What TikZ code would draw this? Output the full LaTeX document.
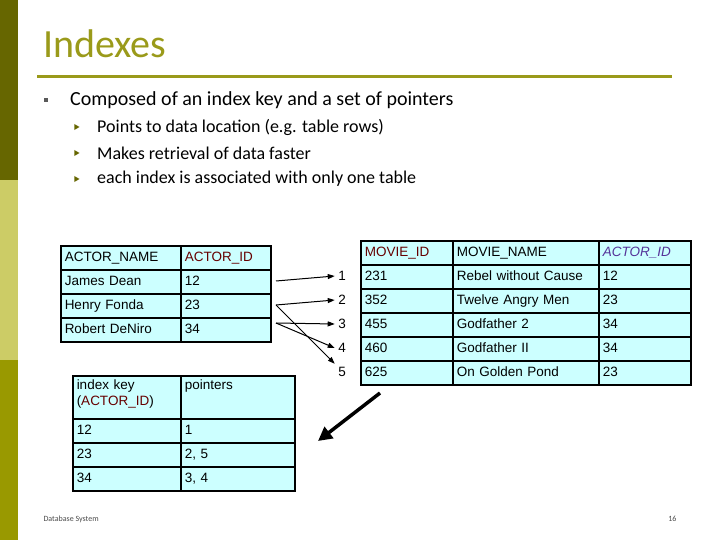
\documentclass[tikz,border=0pt]{standalone}
\usepackage{fontspec}
\setmainfont{Carlito}
\newfontfamily\tab{Liberation Sans}
\usetikzlibrary{arrows.meta,shapes.geometric}
\definecolor{olivedark}{HTML}{666600}
\definecolor{olivemid}{HTML}{999900}
\definecolor{khaki}{HTML}{CCCC66}
\definecolor{titlec}{HTML}{9A9A1A}
\definecolor{cellc}{HTML}{CCFFFF}
\definecolor{hdred}{HTML}{660000}
\definecolor{hdpurple}{HTML}{553399}
\tikzset{
 cell/.style={draw=black,line width=1.5pt,fill=cellc,anchor=north west,inner xsep=4pt,inner ysep=0pt,
   minimum width=#1,text width=#1-8pt,align=left,minimum height=24pt,text height=10pt,text depth=3pt,
   font=\tab\fontsize{13.5}{16}\selectfont},
 cell/.default=100pt,
 rownum/.style={font=\tab\fontsize{13.5}{15}\selectfont},
 ptr/.style={-{Triangle[length=7pt,width=5pt]},line width=1pt},
 big/.style={-{Triangle[length=14pt,width=14pt]},line width=3.5pt},
 sub/.style={font=\fontsize{18}{20}\selectfont,anchor=west},
}
\begin{document}
\begin{tikzpicture}[x=1pt,y=-1pt]
\useasboundingbox (0,0) rectangle (720,540);
\fill[white] (0,0) rectangle (720,540);
\fill[olivedark] (0,0) rectangle (18,180);
\fill[khaki] (0,180) rectangle (18,360);
\fill[olivemid] (0,360) rectangle (18,540);
\node[anchor=base west,text=titlec,font=\fontsize{40}{44}\selectfont,inner sep=0pt] (title) at (43,58) {Indexes};
\draw[titlec,line width=3pt] (37,77) -- (672,77);
\node[fill=gray!70!black,minimum size=4pt,inner sep=0pt] (b0) at (46,100) {};
\node[sub,font=\fontsize{20}{22}\selectfont,inner sep=0pt] (t0) at (70,100) {Composed of an index key and a set of pointers};
\foreach \y/\t [count=\i] in {127/Points to data location (e.g. table rows),153/Makes retrieval of data faster,179/each index is associated with only one table}{
 \node[fill=olivedark,regular polygon,regular polygon sides=3,shape border rotate=-90,minimum size=7pt,inner sep=0pt] (tri\i) at (76,\y) {};
 \node[sub,inner sep=0pt] (s\i) at (97,\y) {\t};
}
% actor table
\node[cell=120pt] (a11) at (60,245) {ACTOR\_NAME};
\node[cell=90pt] (a12) at (180,245) {\textcolor{hdred}{ACTOR\_ID}};
\foreach \n/\id [count=\r] in {James Dean/12,Henry Fonda/23,Robert DeNiro/34}{
 \node[cell=120pt] (a\r1x) at (60,245+24*\r) {\n};
 \node[cell=90pt] (a\r2x) at (180,245+24*\r) {\id};
}
% movie table
\node[cell=92pt] (mh1) at (360,240) {\textcolor{hdred}{MOVIE\_ID}};
\node[cell=146pt] (mh2) at (452,240) {MOVIE\_NAME};
\node[cell=92pt] (mh3) at (598,240) {\textcolor{hdpurple}{\itshape ACTOR\_ID}};
\foreach \a/\b/\c [count=\r] in {231/Rebel without Cause/12,352/Twelve Angry Men/23,455/Godfather 2/34,460/Godfather II/34,625/On Golden Pond/23}{
 \node[cell=92pt] (m\r1) at (360,240+24*\r) {\a};
 \node[cell=146pt] (m\r2) at (452,240+24*\r) {\b};
 \node[cell=92pt] (m\r3) at (598,240+24*\r) {\c};
 \node[rownum] (n\r) at (342,252+24*\r) {\r};
}
% index table
\node[cell=108pt,minimum height=43pt,text height=12pt,text depth=28pt] (i11) at (72,375) {index key\\(\textcolor{hdred}{ACTOR\_ID})};
\node[cell=114pt,minimum height=43pt,text height=12pt,text depth=28pt] (i12) at (180,375) {pointers};
\foreach \k/\p [count=\r] in {12/1,23/{2, 5},34/{3, 4}}{
 \node[cell=108pt] (i\r1x) at (72,394+24*\r) {\k};
 \node[cell=114pt] (i\r2x) at (180,394+24*\r) {\p};
}
% pointers
\coordinate (p1) at (276,281);
\coordinate (p2) at (276,305);
\coordinate (p3) at (276,323);
\draw[ptr] (p1) -- (n1.west);
\draw[ptr] (p2) -- (n2.west);
\draw[ptr] (p2) -- (n5.north west);
\draw[ptr] (p3) -- (n3.west);
\draw[ptr] (p3) -- (n4.west);
\coordinate (bs) at (380,393);
\coordinate (be) at (318,441);
\draw[big] (bs) -- (be);
\node[anchor=west,text=gray!60!black,font=\fontsize{8}{9}\selectfont] (f1) at (40,519) {Database System};
\node[anchor=east,text=gray!60!black,font=\fontsize{8}{9}\selectfont] (f2) at (680,519) {16};
\end{tikzpicture}
\end{document}
